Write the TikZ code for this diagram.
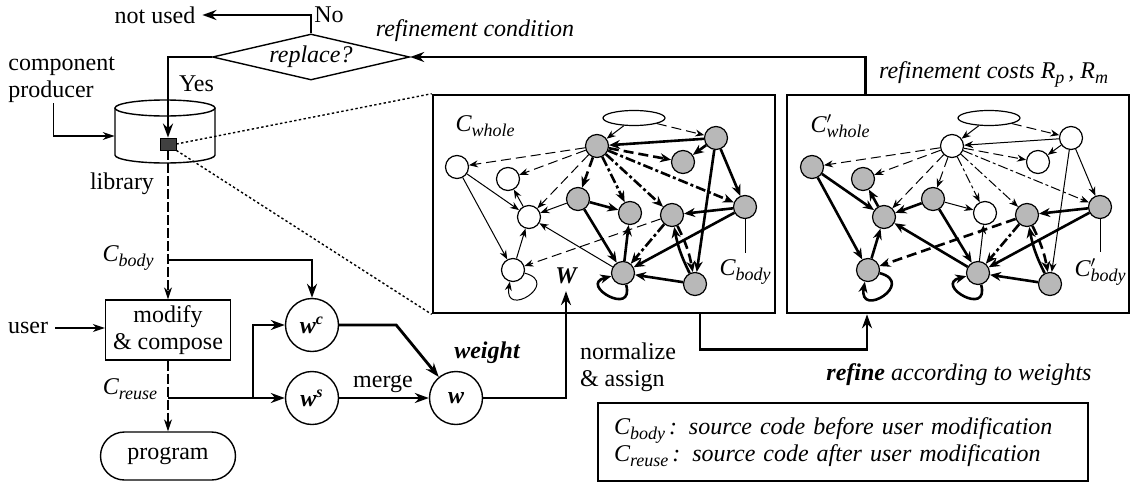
\documentclass[tikz,border=0pt]{standalone}
\usepackage{fontspec}
\setmainfont{Liberation Serif}
\usetikzlibrary{shapes,arrows,arrows.meta,positioning,calc}

\newcommand\csub[2]{{\itshape #1}\raisebox{-0.45ex}{\itshape\small #2}}
\newcommand\csubp[2]{{\itshape #1}\rlap{$'$}\raisebox{-0.45ex}{\itshape\small #2}}

\tikzset{
  gn/.style={circle, draw, line width=0.6pt, minimum size=11.5pt, inner sep=0pt},
  gy/.style={gn, fill=black!28},
  wh/.style={gn, fill=white},
  es/.style={line width=0.5pt, -{Stealth[length=4.5pt,width=3.5pt]}},
  Es/.style={line width=1.3pt, -{Stealth[length=5.5pt,width=4.5pt]}},
  ed/.style={es, dash pattern=on 5pt off 2.5pt},
  Ed/.style={Es, dash pattern=on 5pt off 2.5pt},
  ex/.style={es, dash pattern=on 5pt off 1.5pt on 1.5pt off 1.5pt},
  Ex/.style={Es, dash pattern=on 5pt off 1.5pt on 1.5pt off 1.5pt},
  flow/.style={line width=1.4pt, -{Stealth[length=7pt,width=5pt]}},
  fine/.style={line width=0.6pt, -{Stealth[length=6pt,width=4pt]}},
  dashline/.style={line width=0.6pt, dash pattern=on 5pt off 1.5pt},
  zoomline/.style={line width=0.7pt, dash pattern=on 1.2pt off 1.2pt},
  wnode/.style={circle, draw, line width=0.7pt, minimum size=26.5pt, inner sep=0pt},
  panel/.style={draw, line width=1.3pt, minimum width=171pt, minimum height=109pt, inner sep=0pt}
}

\begin{document}
\begin{tikzpicture}[x=0.5pt, y=-0.5pt, font=\fontsize{12}{13.5}\selectfont]
  \useasboundingbox (0,0) rectangle (1140,482);

  % decision at the top
  \node (notused) at (155,15) {not used};
  \node[anchor=west, inner sep=1pt] (no) at (312,15) {No};
  \node[diamond, draw, line width=0.7pt, aspect=4.4, inner sep=0pt, minimum width=98.5pt, minimum height=23pt] (rep) at (311,57) {\itshape replace?};
  \node (rcond) at (475,31) {\itshape refinement condition};
  \draw[flow] (rep.north) |- (notused.east);

  % library
  \node[align=left, anchor=north west, inner sep=0pt] (prod) at (8,57) {component\\producer};
  \node[minimum width=50pt, minimum height=27pt, inner sep=0pt] (lib) at (165,136) {};
  \draw[line width=0.7pt] (165,108) ellipse [x radius=25pt, y radius=4pt];
  \draw[line width=0.7pt] (115,108) -- (115,155) arc[start angle=180, end angle=360, x radius=25pt, y radius=4pt] -- (215,108);
  \node[draw, fill=black!75, minimum width=8pt, minimum height=6pt, inner sep=0pt] (chip) at (168,144) {};
  \node (libtxt) at (122,184) {library};
  \draw[fine] ([xshift=-4pt]prod.south) |- (lib.west);
  \draw[flow] (rep.west) -| (chip.north);
  \node[anchor=west] (yes) at (172,84) {Yes};

  % user side
  \node[draw, line width=0.7pt, align=center, minimum width=62.5pt, minimum height=30pt, inner sep=1pt] (mod) at (168,330) {modify\\\& compose};
  \node[draw, line width=0.7pt, rounded corners=12pt, minimum width=67.5pt, minimum height=24pt] (prog) at (168,456) {program};
  \node (user) at (28,328) {user};
  \draw[fine] (user.east) -- (user.east -| mod.west);
  \draw[dashline, -{Stealth[length=6pt,width=4pt]}] (chip.south) -- (mod.north);
  \draw[dashline, -{Stealth[length=6pt,width=4pt]}] (mod.south) -- (prog.north);
  \node (cbody) at (128,258) {\csub{C}{body}};
  \node (creuse) at (130,389) {\csub{C}{reuse}};

  % weights
  \node[wnode] (wc) at (312,325) {\bfseries\itshape w\textsuperscript{c}};
  \node[wnode] (ws) at (312,398) {\bfseries\itshape w\textsuperscript{s}};
  \node[wnode] (w) at (456,398) {\bfseries\itshape w};
  \node (wt) at (487,353) {\bfseries\itshape weight};
  \node (merge) at (383,384) {merge};
  \coordinate (cb) at (168,260);
  \coordinate (cr) at (168,398);
  \coordinate (jn) at (253,398);
  \draw[flow] (cb) -| (wc.north);
  \draw[line width=1.4pt] (cr) -- (jn);
  \draw[flow] (jn) -- (ws);
  \draw[flow] (jn) |- (wc);
  \draw[flow] (wc.east) -- ++(57,0) -- (w);
  \draw[flow] (ws) -- (w);

  % panels
  \node[panel] (lpan) at (604,204) {};
  \node[panel] (rpan) at (958,204) {};
  \draw[zoomline] (chip.east) -- (lpan.north west);
  \draw[zoomline] (chip.south east) -- (lpan.south west);
  \node (Wlab) at (566,276) {\bfseries\itshape W};
  \draw[flow] (w.east) -| (Wlab.south);
  \node[align=left, anchor=north west] (norm) at (573,336) {normalize\\\& assign};
  \draw[flow] ([xshift=48pt]lpan.south) -- ++(0,35) -| ([xshift=-45.5pt]rpan.south);
  \node (refine) at (959,375) {{\bfseries\itshape refine} \itshape according to weights};
  \draw[flow] ($(rpan.north west)+(80,0)$) |- (rep.east);
  \node[anchor=west] (rcost) at (872,74) {\itshape refinement costs \csub{R}{p}\,, \csub{R}{m}};

  % left graph
  \node[ellipse, draw, line width=0.6pt, minimum width=31pt, minimum height=7.5pt, inner sep=0pt] (lel) at (634,118) {};
  \foreach \n/\x/\y/\f in {A/597/146/gy, B/716/138/gy, C/683/162/gy, D/457/167/wh, E/508/179/wh, F/529/217/wh, G/578/199/gy, H/630/213/gy, I/672/215/gy, J/745/207/gy, K/513/270/wh, L/623/273/gy, M/695/284/gy}
    \node[\f] (l\n) at (\x,\y) {};
  \draw[es] (lel) -- (lA);
  \draw[ed] (lel) -- (lB);
  \foreach \u/\v/\s in {B/A/Es, B/C/Es, B/J/Es, B/M/Es, A/D/ed, A/E/ed, A/F/ed, A/G/Ed, A/C/Ed, A/H/Ex, A/I/Ex, A/J/Ex, D/F/es, D/K/es, F/E/es, K/F/es, G/F/es, G/H/Es, G/L/Es, L/H/Es, L/F/es, I/K/ed, I/L/Ex, J/I/Es, J/L/Es, M/L/Es}
    \draw[\s] (l\u) -- (l\v);
  \draw[Ed] (lI) to[bend left=8] (lM);
  \draw[Es] (lM) to[bend left=8] (lI);
  \draw[es] (lK.-15) .. controls +(-15:19pt) and +(-100:19pt) .. (lK.-105);
  \draw[Es] (lL.-75) .. controls +(-75:17pt) and +(195:17pt) .. (lL.195);
  \node (lcw) at (485,126) {\csub{C}{whole}};
  \node (lcb) at (745,272) {\csub{C}{body}};
  \draw[line width=0.5pt] (lJ) -- (lcb.north);

  % right graph
  \begin{scope}[shift={(355,0)}]
    \node[ellipse, draw, line width=0.6pt, minimum width=31pt, minimum height=7.5pt, inner sep=0pt] (rel) at (634,118) {};
    \foreach \n/\x/\y/\f in {A/597/146/wh, B/716/138/wh, C/683/162/wh, D/457/167/gy, E/508/179/gy, F/529/217/gy, G/578/199/gy, H/630/213/wh, I/672/215/gy, J/745/207/gy, K/513/270/gy, L/623/273/gy, M/695/284/gy}
      \node[\f] (r\n) at (\x,\y) {};
    \node (rcw) at (485,126) {\csubp{C}{whole}};
    \node (rcb) at (745,272) {\csubp{C}{body}};
  \end{scope}
  \draw[es] (rel) -- (rA);
  \draw[ed] (rel) -- (rB);
  \foreach \u/\v/\s in {B/A/es, B/C/es, B/J/es, B/M/es, A/D/ed, A/E/ed, A/F/ed, A/G/ed, A/C/ed, A/H/ex, A/I/ex, A/J/ex, D/F/Es, D/K/Es, F/E/Es, K/F/Es, G/F/Es, G/H/es, G/L/Es, L/H/es, L/F/Es, I/K/Ed, I/L/Ex, J/I/Es, J/L/Es, M/L/Es}
    \draw[\s] (r\u) -- (r\v);
  \draw[Ed] (rI) to[bend left=8] (rM);
  \draw[Es] (rM) to[bend left=8] (rI);
  \draw[Es] (rK.-15) .. controls +(-15:19pt) and +(-100:19pt) .. (rK.-105);
  \draw[Es] (rL.-75) .. controls +(-75:17pt) and +(195:17pt) .. (rL.195);
  \draw[line width=0.5pt] (rJ) -- (rcb.north);

  % legend
  \node[draw, line width=0.6pt, minimum width=245pt, minimum height=39pt, text width=229pt, align=left] (legend) at (843,442) {\csub{C}{body}\,{\itshape : source code before user modification}\\\csub{C}{reuse}\,{\itshape : source code after user modification}};
\end{tikzpicture}
\end{document}
